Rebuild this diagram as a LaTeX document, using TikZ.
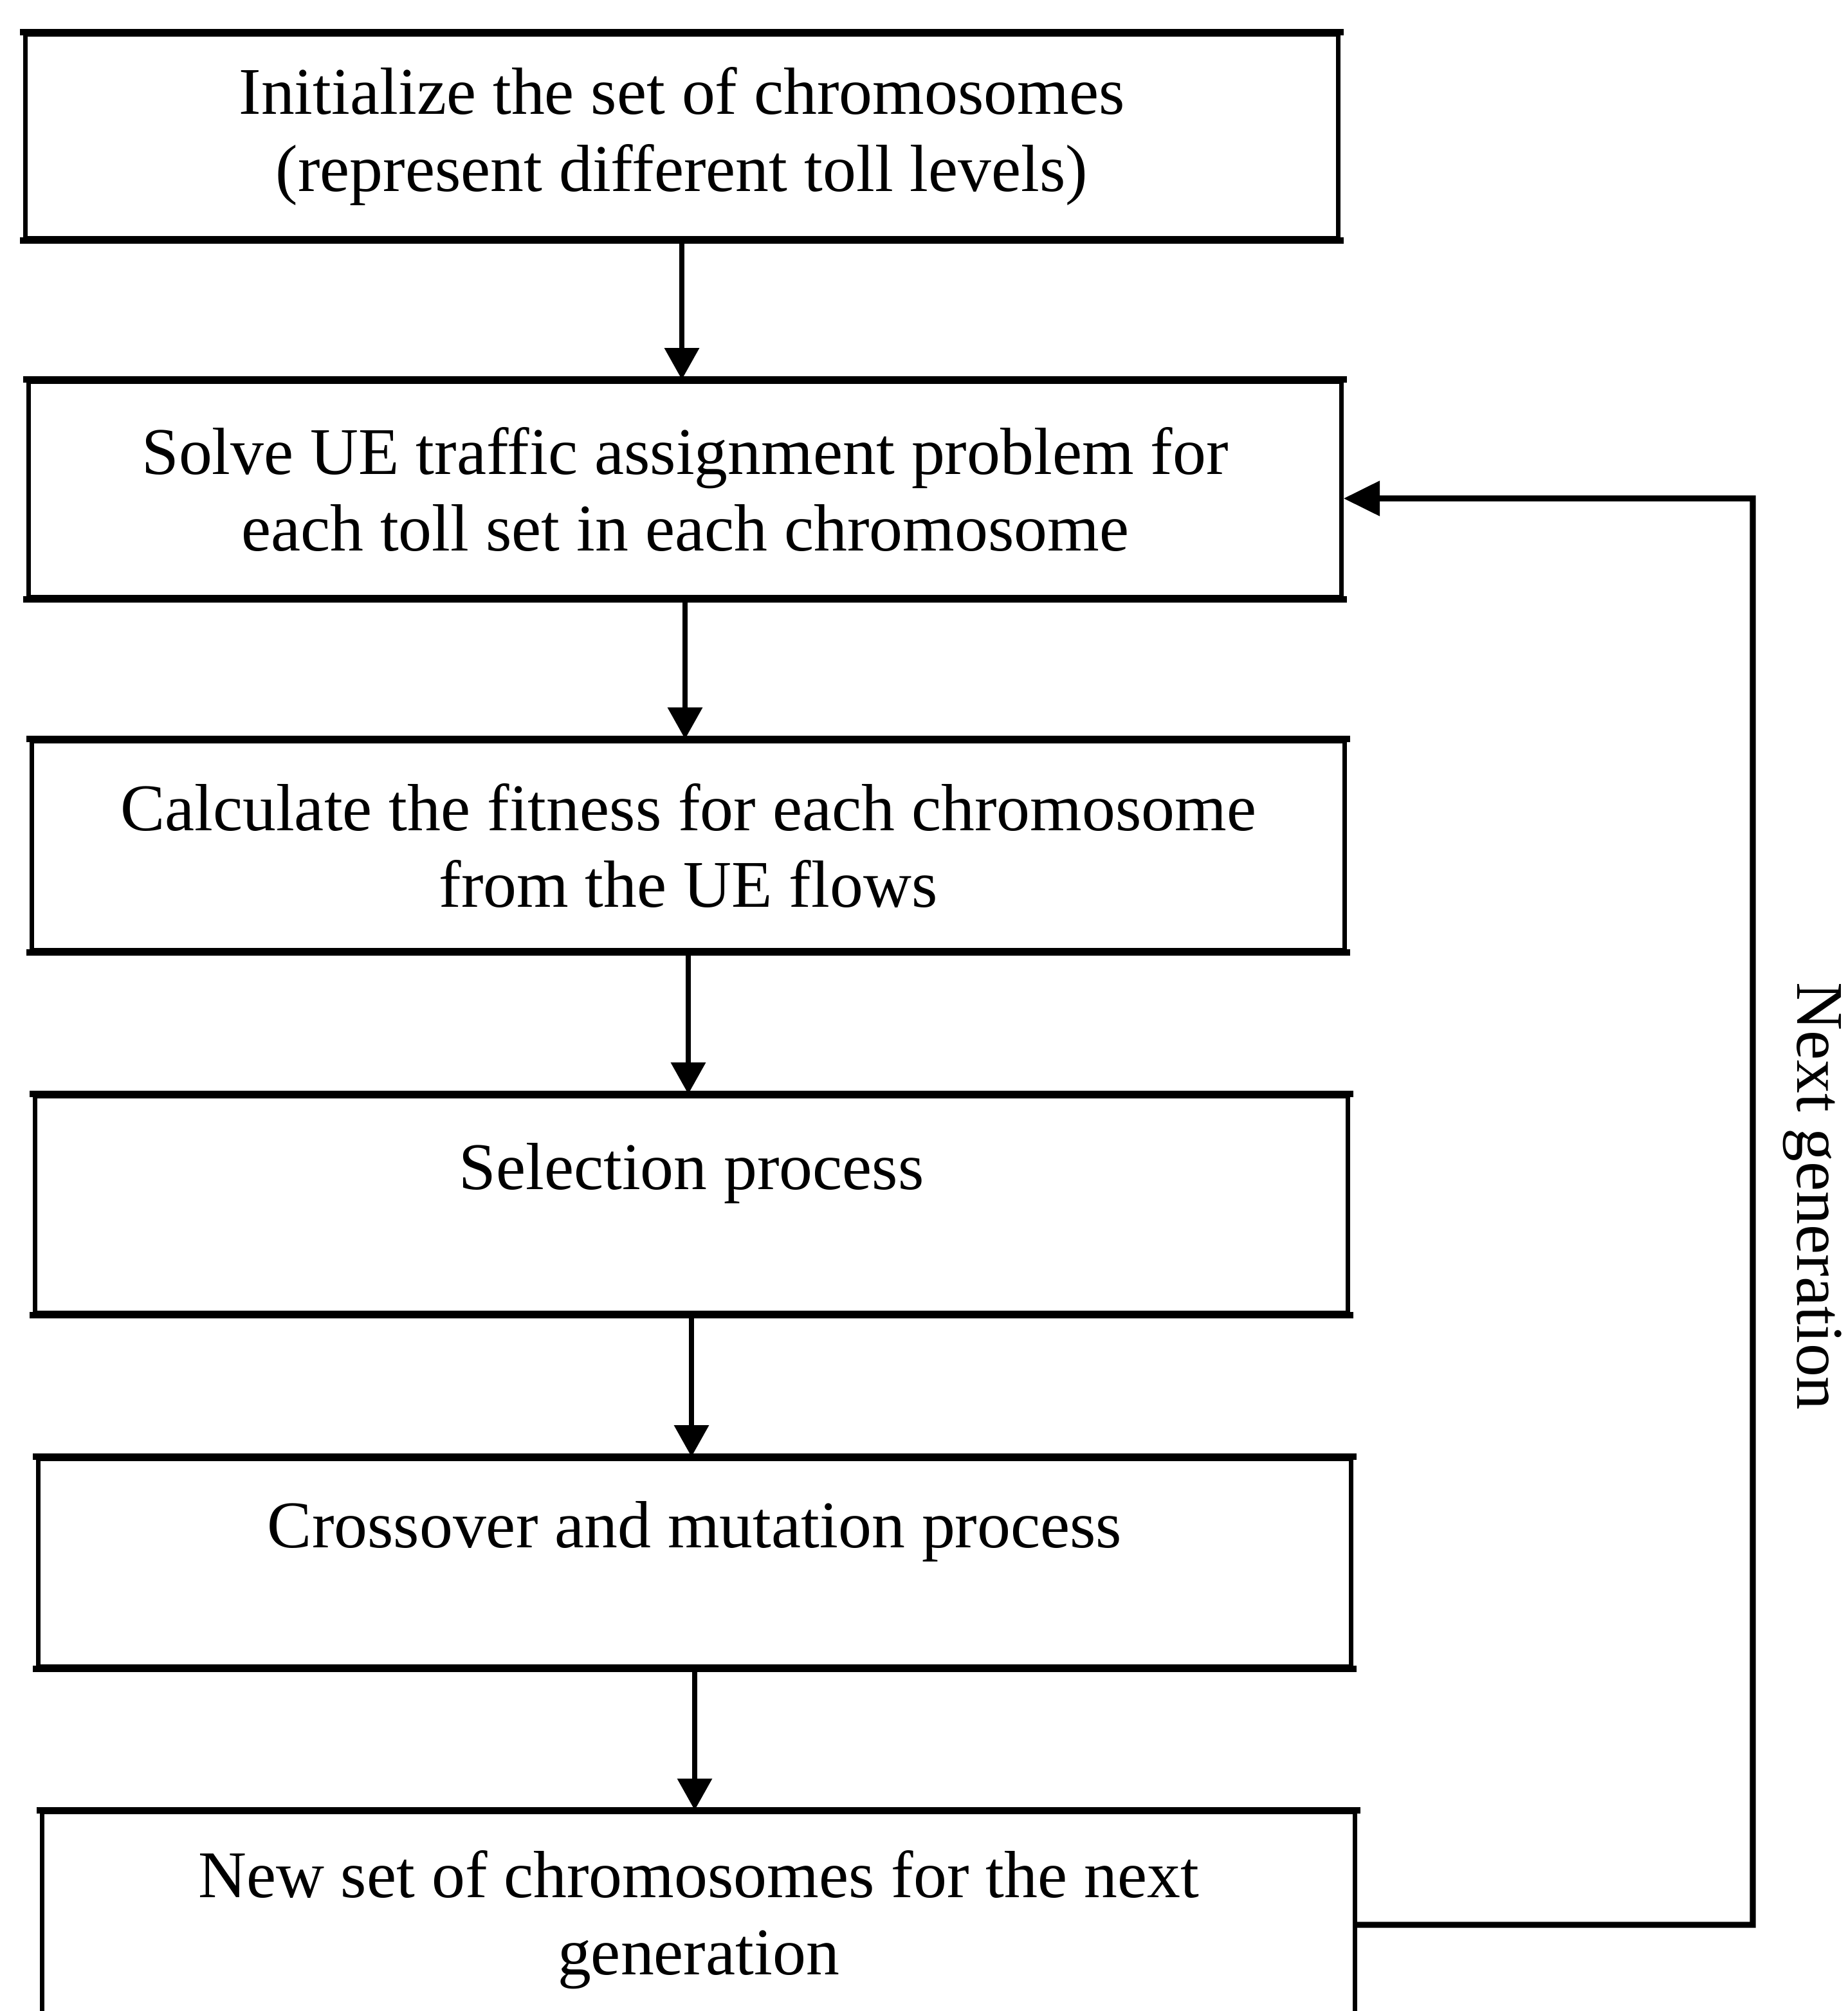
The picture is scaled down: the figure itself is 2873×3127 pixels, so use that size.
\documentclass[tikz,border=0pt]{standalone}
\usepackage{fontspec}
\setmainfont{Liberation Serif}
\usetikzlibrary{arrows.meta,calc}

\tikzset{
  stepbox/.style={draw, line width=1.8pt, inner sep=0pt, align=center,
    minimum width=20.4cm, font=\fontsize{29.5}{34}\selectfont},
  hedge/.style={line width=2.8pt, line cap=rect},
  flow/.style={line width=2.2pt, -{Triangle[length=14pt,width=15pt]}},
  loopline/.style={line width=2.6pt, line join=miter, -{Triangle[length=16pt,width=15pt]}}
}

\begin{document}
\begin{tikzpicture}[x=0.01cm, y=-0.01cm]
  \useasboundingbox (0,0) rectangle (2873,3127);

  % process steps
  \node[stepbox, minimum height=3.17cm] (b1) at (1060,212)
    {Initialize the set of chromosomes\\(represent different toll levels)};
  \node[stepbox, minimum height=3.35cm] (b2) at (1065,761)
    {Solve UE traffic assignment problem for\\each toll set in each chromosome};
  \node[stepbox, minimum height=3.25cm] (b3) at (1070,1315)
    {Calculate the fitness for each chromosome\\from the UE flows};
  \node[stepbox, minimum height=3.37cm] (b4) at (1075,1873)
    {Selection process\\\mbox{}};
  \node[stepbox, minimum height=3.23cm] (b5) at (1080,2430)
    {Crossover and mutation process\\\mbox{}};
  \node[stepbox, minimum height=3.34cm] (b6) at (1086,2985)
    {New set of chromosomes for the next\\generation};

  % heavier top and bottom edges
  \foreach \b in {b1,b2,b3,b4,b5,b6}
    \draw[hedge] (\b.north west) -- (\b.north east) (\b.south west) -- (\b.south east);

  % downward flow
  \draw[flow] (b1.south) -- (b1.south |- b2.north);
  \draw[flow] (b2.south) -- (b2.south |- b3.north);
  \draw[flow] (b3.south) -- (b3.south |- b4.north);
  \draw[flow] (b4.south) -- (b4.south |- b5.north);
  \draw[flow] (b5.south) -- (b5.south |- b6.north);

  % feedback loop to the next generation
  \coordinate (fb) at (2725,2993);
  \draw[loopline] (b6.east |- fb) -- (fb) -- (fb |- 0,775) -- ([yshift=-4pt]b2.east);
  \node[rotate=-90, font=\fontsize{29.5}{34}\selectfont, inner sep=0pt] (lbl) at (2818,1860) {Next generation};
\end{tikzpicture}
\end{document}
